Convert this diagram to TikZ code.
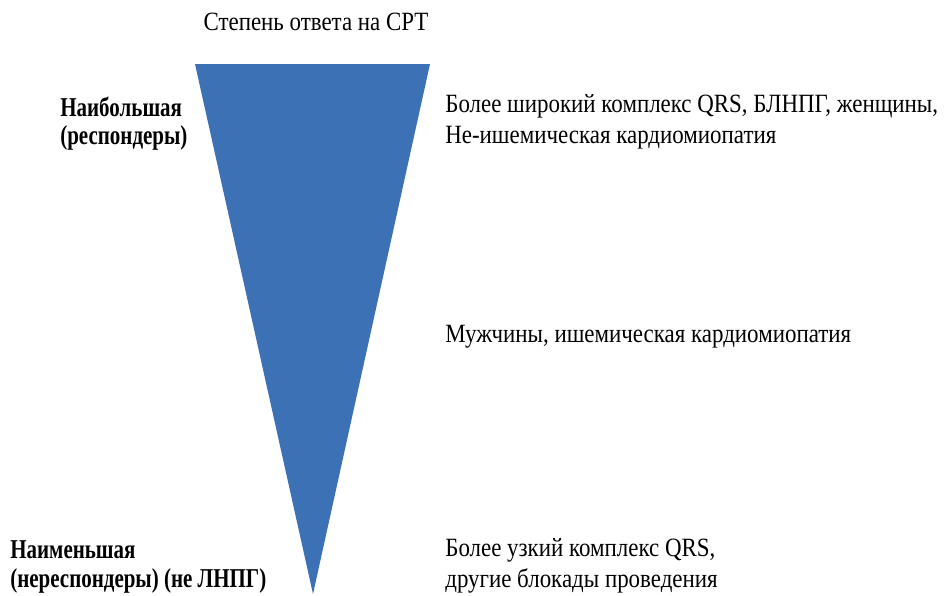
\documentclass[tikz,border=0pt]{standalone}
\usepackage{fontspec}
\setmainfont[FakeStretch=0.87]{Liberation Serif}
\newfontfamily\boldcond[FakeStretch=0.77]{Liberation Serif}
\definecolor{coneblue}{RGB}{61,113,181}
\begin{document}
\begin{tikzpicture}[x=0.02cm,y=-0.02cm,
    lbl/.style={anchor=west,align=left,inner sep=0pt,font=\fontsize{15}{17.6}\selectfont},
    bold lbl/.style={lbl,font=\fontsize{15.5}{16}\selectfont\boldcond\bfseries}]
    \useasboundingbox (0,0) rectangle (946,595);
    \fill [coneblue] (195,64) -- (430,64) -- (313,594) -- cycle;
    \node [lbl,anchor=center] (title) at (316,22) {Степень ответа на СРТ};
    \node [bold lbl] (most) at (60,124) {Наибольшая\\(респондеры)};
    \node [bold lbl] (least) at (10,567) {Наименьшая\\(нереспондеры) (не ЛНПГ)};
    \node [lbl] (wide) at (445,122) {Более широкий комплекс QRS, БЛНПГ, женщины,\\Не-ишемическая кардиомиопатия};
    \node [lbl] (men) at (445,337) {Мужчины, ишемическая кардиомиопатия};
    \node [lbl] (narrow) at (445,566) {Более узкий комплекс QRS,\\другие блокады проведения};
  \end{tikzpicture}
\end{document}
